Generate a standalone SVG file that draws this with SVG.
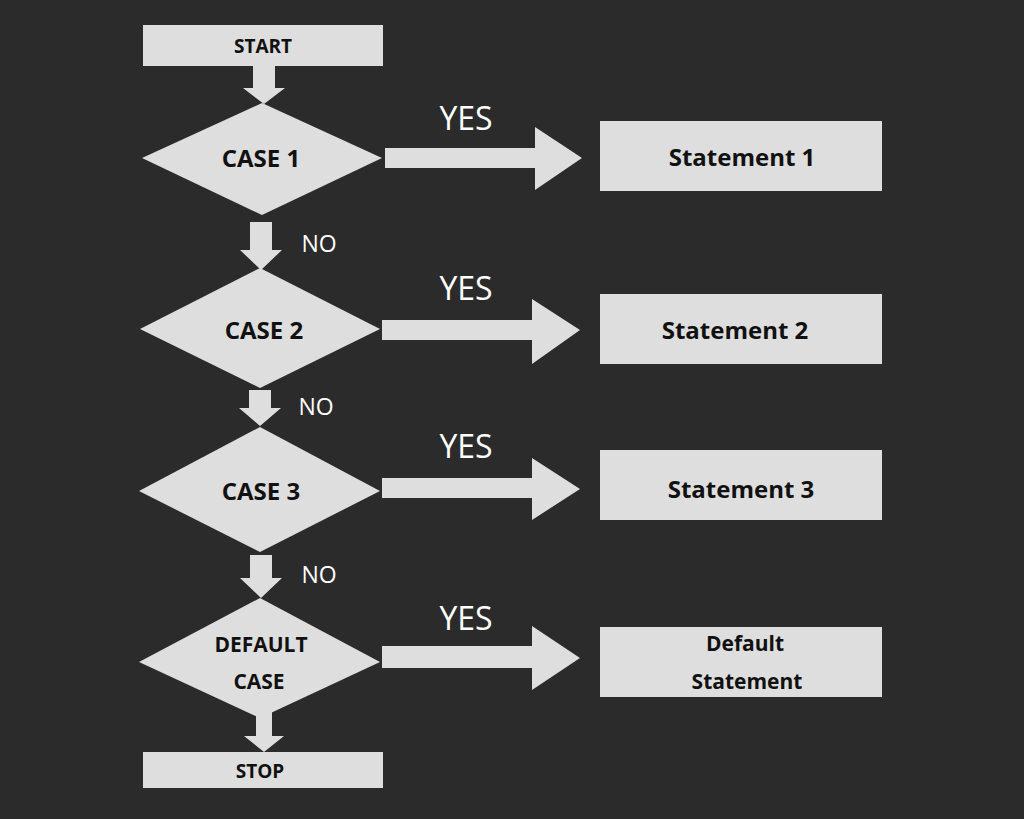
<svg xmlns="http://www.w3.org/2000/svg" width="1024" height="819" viewBox="0 0 1024 819">
<style>
.s{fill:#dedede}
.t{font-family:"Open Sans","Liberation Sans",sans-serif;font-weight:bold;fill:#111;text-anchor:middle}
.l{font-family:"Open Sans","Liberation Sans",sans-serif;fill:#fff;text-anchor:middle}
</style>
<rect width="1024" height="819" fill="#2b2b2b"/>
<g id="connectors" class="s">
<polygon points="253,66 275,66 275,88 285,88 264,104 243,88 253,88"/>
<polygon points="250,222 272,222 272,250 282,250 261,270 240,250 250,250"/>
<polygon points="249,390 271,390 271,408 281,408 260,426 239,408 249,408"/>
<polygon points="250,555 272,555 272,578 282,578 261,598 240,578 250,578"/>
<polygon points="256,712 272,712 272,736 284,736 264,752 244,736 256,736"/>
<polygon points="385,148 535,148 535,127 582,158 535,190 535,168 385,168"/>
<polygon points="382,320 532,320 532,299 580,330 532,364 532,340 382,340"/>
<polygon points="382,478 532,478 532,458 580,489 532,520 532,498 382,498"/>
<polygon points="382,646 532,646 532,626 580,658 532,690 532,668 382,668"/>
</g>
<g id="start"><rect class="s" x="143" y="25" width="240" height="41"/><text class="t" x="263" y="53" font-size="19">START</text></g>
<g id="case1"><polygon class="s" points="262,103 382,158 262,215 142,158"/><text class="t" x="261" y="167" font-size="24">CASE 1</text></g>
<g id="case2"><polygon class="s" points="260,268 380,329 260,388 140,329"/><text class="t" x="264" y="339" font-size="24">CASE 2</text></g>
<g id="case3"><polygon class="s" points="260,427 380,491 260,552 139,491"/><text class="t" x="261" y="500" font-size="24">CASE 3</text></g>
<g id="default"><polygon class="s" points="260,598 380,662 260,718 139,662"/><text class="t" x="261" y="652" font-size="21">DEFAULT</text><text class="t" x="259" y="689" font-size="21">CASE</text></g>
<g id="stop"><rect class="s" x="143" y="752" width="240" height="36"/><text class="t" x="260" y="778" font-size="19">STOP</text></g>
<g id="st1"><rect class="s" x="600" y="121" width="282" height="70"/><text class="t" x="742" y="166" font-size="24">Statement 1</text></g>
<g id="st2"><rect class="s" x="600" y="294" width="282" height="70"/><text class="t" x="735" y="339" font-size="24">Statement 2</text></g>
<g id="st3"><rect class="s" x="600" y="450" width="282" height="70"/><text class="t" x="741" y="498" font-size="24">Statement 3</text></g>
<g id="st4"><rect class="s" x="600" y="627" width="282" height="70"/><text class="t" x="745" y="651" font-size="21">Default</text><text class="t" x="747" y="689" font-size="21">Statement</text></g>
<g id="labels">
<text class="l" x="466" y="130" font-size="32">YES</text>
<text class="l" x="466" y="300" font-size="32">YES</text>
<text class="l" x="466" y="458" font-size="32">YES</text>
<text class="l" x="466" y="630" font-size="32">YES</text>
<text class="l" x="319" y="252" font-size="23">NO</text>
<text class="l" x="316" y="415" font-size="23">NO</text>
<text class="l" x="319" y="583" font-size="23">NO</text>
</g>
</svg>
